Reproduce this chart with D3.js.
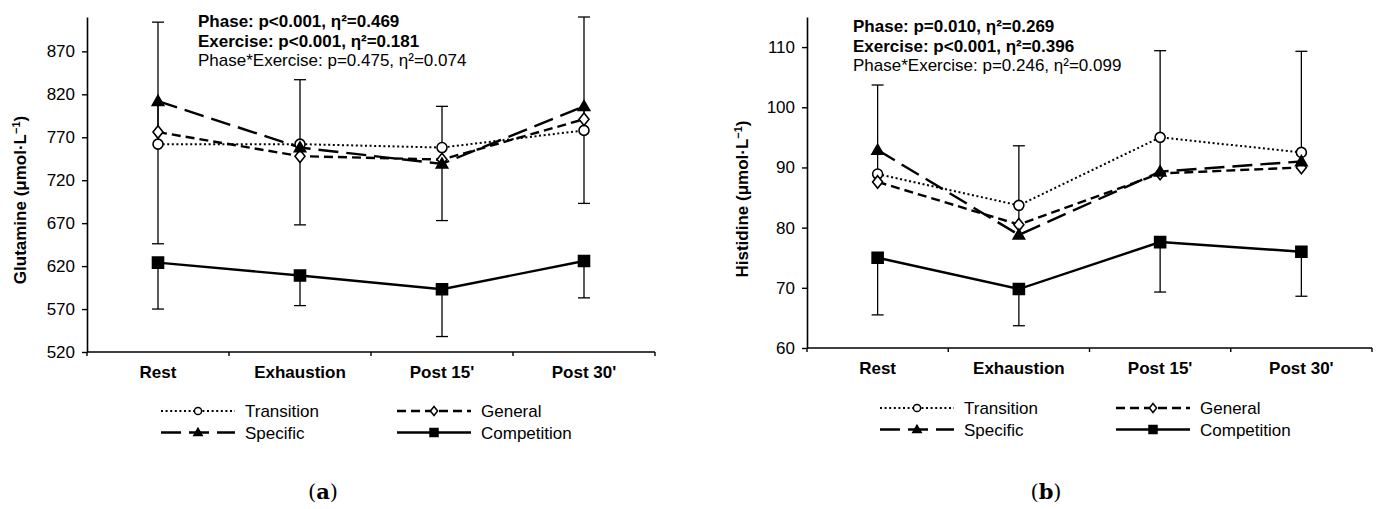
<!DOCTYPE html>
<html>
<head>
<meta charset="utf-8">
<script src="https://cdn.jsdelivr.net/npm/d3@7"></script>
<style>
	body { margin: 0; background: #fff; }
	svg { display: block; font-family: "Liberation Sans", Arial, sans-serif; }
</style>
</head>
<body>
<div id="chart"></div>
<script>

var phases = ['Rest', 'Exhaustion', "Post 15'", "Post 30'"]
var seriesNames = ['Transition', 'General', 'Specific', 'Competition']

// panel (a) glutamine
var glnTransition = [762, 762, 758, 778]
var glnGeneral = [776, 748, 744, 791]
var glnSpecific = [812, 758, 739, 806]
var glnCompetition = [624, 609, 593, 626]
var glnErrHigh = [904, 837, 806, 910]
var glnErrLow = [646, 668, 673, 693]
var glnCompLow = [570, 574, 538, 583]
var glnTicks = [520, 570, 620, 670, 720, 770, 820, 870]
var glnStats = ['Phase: p<0.001, η²=0.469', 'Exercise: p<0.001, η²=0.181', 'Phase*Exercise: p=0.475, η²=0.074']

// panel (b) histidine
var hisTransition = [88.9, 83.7, 95.0, 92.5]
var hisGeneral = [87.6, 80.5, 89.0, 90.0]
var hisSpecific = [92.9, 78.8, 89.3, 91.0]
var hisCompetition = [75.0, 69.8, 77.6, 76.0]
var hisErrHigh = [103.7, 93.6, 109.4, 109.3]
var hisCompLow = [65.5, 63.7, 69.3, 68.6]
var hisTicks = [60, 70, 80, 90, 100, 110]
var hisStats = ['Phase: p=0.010, η²=0.269', 'Exercise: p<0.001, η²=0.396', 'Phase*Exercise: p=0.246, η²=0.099']

var styles = {
	Transition: { dash: '2,2.6', width: 2, marker: 'circle' },
	General: { dash: '9,5', width: 2.4, marker: 'diamond' },
	Specific: { dash: '20,8', width: 2.4, marker: 'triangle' },
	Competition: { dash: null, width: 2.4, marker: 'square' }
}

var svg = d3.select('#chart')
	.append('svg')
	.attr('width', 1382)
	.attr('height', 509)

var markerPath = (type, s) => {
	if (type === 'circle') return d3.symbol(d3.symbolCircle, Math.PI * s * s)()
	if (type === 'square') return 'M' + (-s) + ',' + (-s) + 'H' + s + 'V' + s + 'H' + (-s) + 'Z'
	if (type === 'diamond') return 'M0,' + (-s * 1.25) + 'L' + s + ',0L0,' + (s * 1.25) + 'L' + (-s) + ',0Z'
	if (type === 'triangle') return 'M0,' + (-s * 1.1) + 'L' + (s * 1.1) + ',' + (s * 0.8) + 'L' + (-s * 1.1) + ',' + (s * 0.8) + 'Z'
}

var markerFill = type => (type === 'circle' || type === 'diamond') ? '#fff' : '#000'

var drawPanel = p => {

	var g = svg.append('g')

	var x = d3.scaleBand()
		.domain(phases)
		.range([p.left, p.right])

	var y = d3.scaleLinear()
		.domain(p.domain)
		.range([p.bottom, p.top])

	var cx = d => x(d) + x.bandwidth() / 2

	// y axis
	var yAxis = g.append('g')
		.attr('transform', 'translate(' + p.left + ',0)')
		.call(d3.axisLeft(y).tickValues(p.ticks).tickSize(5).tickSizeOuter(0).tickPadding(7))
	yAxis.select('.domain').attr('stroke-width', 1.6)
	yAxis.selectAll('.tick line').attr('stroke-width', 1.4)
	yAxis.selectAll('.tick text')
		.attr('font-size', 17)
		.attr('font-family', '"Liberation Sans", Arial, sans-serif')
		.attr('fill', '#000')

	// x axis, ticks at category boundaries
	var edges = phases.map(d => x(d)).concat([p.right])
	g.append('line')
		.attr('x1', p.left).attr('x2', p.right)
		.attr('y1', p.bottom).attr('y2', p.bottom)
		.attr('stroke', '#000').attr('stroke-width', 1.6)
	g.selectAll('.xtick')
		.data(edges)
		.join('line')
		.attr('x1', d => d).attr('x2', d => d)
		.attr('y1', p.bottom).attr('y2', p.bottom + 4)
		.attr('stroke', '#000').attr('stroke-width', 1.4)
	g.selectAll('.xlabel')
		.data(phases)
		.join('text')
		.attr('x', d => cx(d))
		.attr('y', p.bottom + 26)
		.attr('text-anchor', 'middle')
		.attr('font-size', 17)
		.attr('font-weight', 'bold')
		.text(d => d)

	// y label
	var yl = g.append('text')
		.attr('transform', 'translate(' + p.labelX + ',' + p.labelY + ') rotate(-90)')
		.attr('text-anchor', 'middle')
		.attr('font-size', 17)
		.attr('font-weight', 'bold')
	yl.append('tspan').text(p.label + ' (μmol·L')
	yl.append('tspan').attr('baseline-shift', 'super').attr('font-size', 11).text('−1')
	yl.append('tspan').text(')')

	// stats text
	g.selectAll('.stat')
		.data(p.stats)
		.join('text')
		.attr('x', p.statX)
		.attr('y', (d, i) => p.statY + i * 19.7)
		.attr('font-size', 17)
		.attr('font-weight', (d, i) => i < 2 ? 'bold' : 'normal')
		.text(d => d)

	// error bars
	var bars = []
	phases.forEach((ph, i) => {
		var top = p.series.Transition[i]
		var bottom = top
		;['Transition', 'General', 'Specific'].forEach(s => {
			top = Math.max(top, p.series[s][i])
			bottom = Math.min(bottom, p.series[s][i])
		})
		bars.push({ ph: ph, from: bottom, to: p.errHigh[i] })
		if (p.errLow) bars.push({ ph: ph, from: top, to: p.errLow[i] })
		bars.push({ ph: ph, from: p.series.Competition[i], to: p.compLow[i] })
	})
	var eb = g.append('g').attr('stroke', '#000').attr('stroke-width', 1.3)
	eb.selectAll('line.v')
		.data(bars)
		.join('line')
		.attr('x1', d => cx(d.ph)).attr('x2', d => cx(d.ph))
		.attr('y1', d => y(d.from)).attr('y2', d => y(d.to))
	eb.selectAll('line.cap')
		.data(bars)
		.join('line')
		.attr('x1', d => cx(d.ph) - 6).attr('x2', d => cx(d.ph) + 6)
		.attr('y1', d => y(d.to)).attr('y2', d => y(d.to))

	// lines
	var line = d3.line()
		.x((d, i) => cx(phases[i]))
		.y(d => y(d))

	seriesNames.forEach(s => {
		g.append('path')
			.datum(p.series[s])
			.attr('d', line)
			.attr('fill', 'none')
			.attr('stroke', '#000')
			.attr('stroke-width', styles[s].width)
			.attr('stroke-dasharray', styles[s].dash)
	})

	var sizes = { circle: 5, diamond: 5, triangle: 5.2, square: 5.5 }
	seriesNames.forEach(s => {
		var m = styles[s].marker
		g.selectAll('.m-' + s)
			.data(p.series[s])
			.join('path')
			.attr('transform', (d, i) => 'translate(' + cx(phases[i]) + ',' + y(d) + ')')
			.attr('d', markerPath(m, sizes[m]))
			.attr('fill', markerFill(m))
			.attr('stroke', '#000')
			.attr('stroke-width', 1.6)
	})

	// legend
	var leg = g.append('g')
	var items = [
		{ s: 'Transition', col: 0, row: 0 },
		{ s: 'General', col: 1, row: 0 },
		{ s: 'Specific', col: 0, row: 1 },
		{ s: 'Competition', col: 1, row: 1 }
	]
	var legSizes = { circle: 3.6, diamond: 3.6, triangle: 3.8, square: 4 }
	items.forEach(it => {
		var lx = p.legX + it.col * 236
		var ly = p.legY + it.row * 21.5
		var st = styles[it.s]
		leg.append('line')
			.attr('x1', lx).attr('x2', lx + 74)
			.attr('y1', ly).attr('y2', ly)
			.attr('stroke', '#000')
			.attr('stroke-width', st.width)
			.attr('stroke-dasharray', st.dash)
		leg.append('path')
			.attr('transform', 'translate(' + (lx + 37) + ',' + ly + ')')
			.attr('d', markerPath(st.marker, legSizes[st.marker]))
			.attr('fill', markerFill(st.marker))
			.attr('stroke', '#000')
			.attr('stroke-width', 1.5)
		leg.append('text')
			.attr('x', lx + 84)
			.attr('y', ly + 6)
			.attr('font-size', 17)
			.text(it.s)
	})

	// panel letter
	var pl = g.append('text')
		.attr('x', p.letterX)
		.attr('y', 499)
		.attr('text-anchor', 'middle')
		.attr('font-size', 21)
		.attr('font-family', '"DejaVu Serif", "Liberation Serif", serif')
	pl.append('tspan').text('(')
	pl.append('tspan').attr('font-weight', 'bold').text(p.letter)
	pl.append('tspan').text(')')
}

drawPanel({
	left: 87, right: 655, top: 17, bottom: 352,
	domain: [520, 910],
	ticks: glnTicks,
	label: 'Glutamine',
	labelX: 26, labelY: 200,
	stats: glnStats,
	statX: 198, statY: 27,
	series: { Transition: glnTransition, General: glnGeneral, Specific: glnSpecific, Competition: glnCompetition },
	errHigh: glnErrHigh,
	errLow: glnErrLow,
	compLow: glnCompLow,
	legX: 161, legY: 411,
	letter: 'a', letterX: 323
})

drawPanel({
	left: 807, right: 1372, top: 17, bottom: 348,
	domain: [60, 115],
	ticks: hisTicks,
	label: 'Histidine',
	labelX: 748, labelY: 199,
	stats: hisStats,
	statX: 853, statY: 32,
	series: { Transition: hisTransition, General: hisGeneral, Specific: hisSpecific, Competition: hisCompetition },
	errHigh: hisErrHigh,
	errLow: null,
	compLow: hisCompLow,
	legX: 880, legY: 408,
	letter: 'b', letterX: 1046
})

</script>
</body>
</html>
